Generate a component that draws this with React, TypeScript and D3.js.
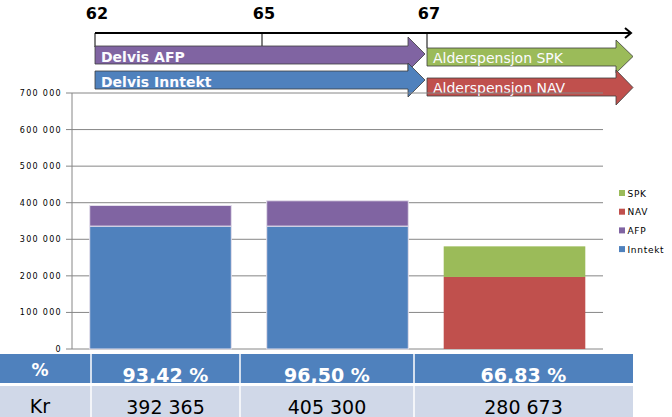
import React from "react";
import * as d3 from "d3";

const categories = ["62-65", "65-67", "67+"];
const inntekt = [336000, 336000, 0];
const afp = [56365, 69300, 0];
const nav = [0, 0, 197000];
const spk = [0, 0, 83673];
const seriesKeys = ["Inntekt", "AFP", "NAV", "SPK"];
const seriesColors = ["#4F81BD", "#8064A2", "#C0504D", "#9BBB59"];
const legendOrder = ["SPK", "NAV", "AFP", "Inntekt"];
const yTicks = [0, 100000, 200000, 300000, 400000, 500000, 600000, 700000];
const pctLabels = ["93,42 %", "96,50 %", "66,83 %"];
const krLabels = ["392 365", "405 300", "280 673"];
const ages = [62, 65, 67];
const timelineArrows = [
  { label: "Delvis AFP", from: 62, to: 67, row: 0, color: "#8064A2", bold: true },
  { label: "Delvis Inntekt", from: 62, to: 67, row: 1, color: "#4F81BD", bold: true },
  { label: "Alderspensjon SPK", from: 67, to: 99, row: 0, color: "#9BBB59", bold: false },
  { label: "Alderspensjon NAV", from: 67, to: 99, row: 1, color: "#C0504D", bold: false },
];

const W = 672;
const H = 417;
const FONT = "'DejaVu Sans', Verdana, sans-serif";

export default function App() {
  const plotL = 72, plotR = 603, plotT = 93, plotB = 349;
  const x = d3.scaleBand().domain(categories).range([plotL, plotR]).paddingInner(0.2).paddingOuter(0.1);
  const y = d3.scaleLinear().domain([0, 700000]).range([plotB, plotT]);
  const color = d3.scaleOrdinal<string, string>().domain(seriesKeys).range(seriesColors);

  const rows = categories.map((c, i) => ({ cat: c, Inntekt: inntekt[i], AFP: afp[i], NAV: nav[i], SPK: spk[i] }));
  const stack = d3.stack<any>().keys(seriesKeys)(rows);

  // timeline scale (piecewise)
  const tx = d3.scaleLinear().domain([62, 65, 67, 99]).range([95, 262, 427, 633]);
  const rowGeom = [
    [{ bt: 46, bb: 64, ht: 37, hb: 71 }, { bt: 48, bb: 66, ht: 40, hb: 73 }],
    [{ bt: 71, bb: 89, ht: 63, hb: 97 }, { bt: 78, bb: 96, ht: 70, hb: 105 }],
  ];

  const arrowPath = (x0: number, x1: number, g: any) => {
    const head = 17;
    const xh = x1 - head;
    const cy = (g.ht + g.hb) / 2;
    return `M${x0},${g.bt}L${xh},${g.bt}L${xh},${g.ht}L${x1},${cy}L${xh},${g.hb}L${xh},${g.bb}L${x0},${g.bb}Z`;
  };

  const colEdges = [0, 91, 240, 414, 633];

  return (
    <svg width={W} height={H} style={{ position: "absolute", left: 0, top: 0, background: "#fff" }} fontFamily={FONT}>
      {/* timeline */}
      <g>
        {ages.map((a) => (
          <text key={"l" + a} x={tx(a) + 2} y={19} textAnchor="middle" fontWeight="bold" fontSize={16} fill="#000">
            {a}
          </text>
        ))}
        <line x1={tx(62)} x2={631} y1={33} y2={33} stroke="#000" strokeWidth={2} />
        <path d="M625,28L631,33L625,38" fill="none" stroke="#000" strokeWidth={2} />
        <line x1={tx(62)} x2={tx(62)} y1={33} y2={47} stroke="#000" strokeWidth={1} />
        <line x1={tx(65)} x2={tx(65)} y1={33} y2={47} stroke="#000" strokeWidth={1} />
        <line x1={tx(67)} x2={tx(67)} y1={33} y2={48} stroke="#000" strokeWidth={1} />
        {timelineArrows.map((a, i) => {
          const g = rowGeom[a.row][a.from === 62 ? 0 : 1];
          const x1 = a.from === 62 ? tx(a.to) - 2 : tx(a.to);
          return (
            <g key={"a" + i}>
              <path d={arrowPath(tx(a.from), x1, g)} fill={a.color} stroke="#3c3c3c" strokeWidth={0.8} />
            </g>
          );
        })}
        {timelineArrows.map((a, i) => {
          const g = rowGeom[a.row][a.from === 62 ? 0 : 1];
          return (
            <text key={"t" + i} x={tx(a.from) + 6} y={g.bb - (a.bold ? 2.5 : 3.5)} fill="#fbfbff" fontSize={14}
              fontWeight={a.bold ? "bold" : "normal"}>
              {a.label}
            </text>
          );
        })}
      </g>

      {/* gridlines & axis */}
      <g>
        {yTicks.map((t) => (
          <g key={t}>
            <line x1={plotL - 6} x2={plotR} y1={y(t)} y2={y(t)} stroke="#868686" strokeWidth={1} />
            <text x={62} y={y(t) + 3} textAnchor="end" fontSize={8} letterSpacing={1.3} fill="#000">
              {d3.format(",")(t).replace(/,/g, " ")}
            </text>
          </g>
        ))}
        <line x1={plotL} x2={plotL} y1={plotT} y2={plotB} stroke="#868686" strokeWidth={1} />
      </g>

      {/* bars */}
      <g>
        {stack.map((s) => (
          <g key={s.key} fill={color(s.key)}>
            {s.map((d, i) =>
              d[1] - d[0] > 0 ? (
                <rect key={i} x={x(categories[i])!} width={x.bandwidth()} y={y(d[1])} height={y(d[0]) - y(d[1])}
                  stroke={i < 2 ? "#E4DFEC" : "none"} strokeWidth={i < 2 ? 1 : 0} />
              ) : null
            )}
          </g>
        ))}
      </g>

      {/* legend */}
      <g>
        {legendOrder.map((k, i) => (
          <g key={k} transform={`translate(619, ${193 + i * 18.7})`}>
            <rect x={0} y={-3} width={6} height={6} fill={color(k)} />
            <text x={8.5} y={3.5} fontSize={9} letterSpacing={0.7} fill="#000">{k}</text>
          </g>
        ))}
      </g>

      {/* table */}
      <g>
        <rect x={0} y={354} width={colEdges[4]} height={29} fill="#4F81BD" />
        <rect x={0} y={386} width={colEdges[4]} height={31} fill="#D0D8E8" />
        {colEdges.slice(1, 4).map((e) => (
          <line key={e} x1={e} x2={e} y1={354} y2={417} stroke="#fff" strokeWidth={1.5} />
        ))}
        <text x={40} y={376} textAnchor="middle" fill="#fff" fontWeight="bold" fontSize={17}>%</text>
        <text x={40} y={413} textAnchor="middle" fill="#000" fontSize={19}>Kr</text>
        {pctLabels.map((p, i) => (
          <text key={p} x={(colEdges[i + 1] + colEdges[i + 2]) / 2} y={382} textAnchor="middle" fill="#fff"
            fontWeight="bold" fontSize={19}>{p}</text>
        ))}
        {krLabels.map((p, i) => (
          <text key={p} x={(colEdges[i + 1] + colEdges[i + 2]) / 2} y={414} textAnchor="middle" fill="#000"
            fontSize={19}>{p}</text>
        ))}
      </g>
    </svg>
  );
}
